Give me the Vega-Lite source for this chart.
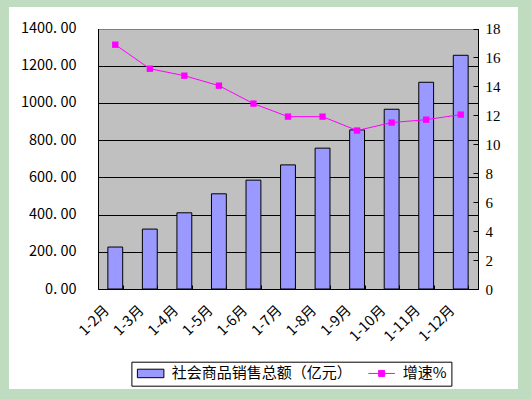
{
  "$schema": "https://vega.github.io/schema/vega-lite/v6.json",
  "width": 509,
  "height": 382,
  "autosize": {"type": "none"},
  "padding": {"left": 9, "top": 7, "right": 13, "bottom": 10},
  "background": "#C0DCC0",
  "config": {
    "view": {"fill": "white", "stroke": null},
    "axis": {"labelColor": "black", "titleColor": "black"}
  },
  "data": {
    "values": [
      {"month": "1-2月", "sales": 225.5, "growth": 16.88},
      {"month": "1-3月", "sales": 322, "growth": 15.22},
      {"month": "1-4月", "sales": 409.6, "growth": 14.74},
      {"month": "1-5月", "sales": 511.6, "growth": 14.05},
      {"month": "1-6月", "sales": 585, "growth": 12.81},
      {"month": "1-7月", "sales": 667, "growth": 11.91},
      {"month": "1-8月", "sales": 757, "growth": 11.91},
      {"month": "1-9月", "sales": 855, "growth": 10.95},
      {"month": "1-10月", "sales": 966, "growth": 11.5},
      {"month": "1-11月", "sales": 1111, "growth": 11.7},
      {"month": "1-12月", "sales": 1256, "growth": 12.05}
    ]
  },
  "encoding": {
    "x": {
      "field": "month",
      "type": "nominal",
      "sort": null,
      "scale": {"type": "band", "range": [89, 469], "paddingInner": 0.57, "paddingOuter": 0.285},
      "axis": {
        "orient": "bottom",
        "offset": -100,
        "title": null,
        "grid": false,
        "domainColor": "black",
        "domainWidth": 1,
        "ticks": true,
        "tickBand": "extent",
        "tickSize": -4,
        "tickColor": "black",
        "labelAngle": -45,
        "labelAlign": "right",
        "labelBaseline": "middle",
        "labelPadding": 23,
        "labelOffset": -8.5,
        "labelFont": "Noto Sans CJK SC",
        "labelFontSize": 14.5
      }
    }
  },
  "layer": [
    {
      "mark": {"type": "bar", "opacity": 0},
      "encoding": {
        "y": {
          "field": "sales",
          "type": "quantitative",
          "scale": {"domain": [0, 1400], "range": [282, 21.5], "nice": false, "zero": true},
          "axis": {
            "orient": "left",
            "offset": -89,
            "values": [700],
            "grid": true,
            "gridColor": "#C0C0C0",
            "gridWidth": 260.5,
            "gridCap": "butt",
            "gridOpacity": 1,
            "domain": false,
            "ticks": false,
            "labels": false,
            "title": null,
            "zindex": 0
          }
        }
      }
    },
    {
      "mark": {"type": "bar", "color": "#9999FF", "stroke": "black", "strokeWidth": 1},
      "encoding": {
        "y": {
          "field": "sales",
          "type": "quantitative",
          "scale": {"domain": [0, 1400], "range": [282, 21.5], "nice": false, "zero": true},
          "axis": {
            "orient": "left",
            "offset": -89,
            "values": [0, 200, 400, 600, 800, 1000, 1200, 1400],
            "grid": true,
            "gridColor": {"condition": {"test": "datum.value === 1400", "value": "#808080"}, "value": "black"},
            "gridWidth": 1,
            "gridOpacity": 1,
            "domain": true,
            "domainColor": "black",
            "ticks": false,
            "labelExpr": "replace(format(datum.value, '.2f'), '.', '. ')",
            "labelFont": "Noto Sans CJK SC",
            "labelFontSize": 14.5,
            "labelPadding": 22,
            "title": null,
            "zindex": 0
          }
        }
      }
    },
    {
      "mark": {
        "type": "line",
        "color": "#FF00FF",
        "strokeWidth": 1,
        "point": {"shape": "square", "size": 40, "filled": true, "color": "#FF00FF"}
      },
      "encoding": {
        "y": {
          "field": "growth",
          "type": "quantitative",
          "scale": {"domain": [0, 18], "range": [282, 21.5], "nice": false, "zero": true},
          "axis": {
            "orient": "right",
            "offset": -40,
            "values": [0, 2, 4, 6, 8, 10, 12, 14, 16, 18],
            "grid": false,
            "domain": true,
            "domainColor": "black",
            "ticks": true,
            "tickSize": -5,
            "tickColor": "black",
            "labelFont": "Liberation Serif",
            "labelFontSize": 15,
            "labelPadding": 12,
            "title": null,
            "zindex": 0
          }
        }
      }
    },
    {
      "transform": [{"filter": "false"}],
      "mark": {"type": "point", "filled": true, "strokeWidth": 1, "opacity": 1},
      "encoding": {
        "y": {
          "field": "growth",
          "type": "quantitative",
          "scale": {"domain": [0, 18], "range": [282, 21.5]},
          "axis": null
        },
        "color": {
          "datum": "增速%",
          "scale": {"domain": ["社会商品销售总额（亿元）", "增速%"], "range": ["#9999FF", "#FF00FF"]},
          "legend": {
            "orient": "none",
            "legendX": 122.4,
            "legendY": 354.7,
            "direction": "horizontal",
            "title": null,
            "fillColor": "white",
            "strokeColor": "black",
            "padding": 4,
            "labelFont": "Noto Sans CJK SC",
            "labelFontSize": 15,
            "labelColor": "black",
            "labelLimit": 0,
            "labelOffset": 13.5,
            "symbolOffset": 7.75,
            "columnPadding": 14,
            "symbolSize": 100,
            "symbolStrokeWidth": 1,
            "symbolOpacity": 1
          }
        },
        "stroke": {
          "datum": "增速%",
          "scale": {"domain": ["社会商品销售总额（亿元）", "增速%"], "range": ["black", "#FF00FF"]}
        },
        "shape": {
          "datum": "增速%",
          "scale": {"domain": ["社会商品销售总额（亿元）", "增速%"], "range": ["M-2.65,-0.85H2.65V0.85H-2.65Z", "M-2.65,0H2.65M-0.6,-0.6H0.6V0.6H-0.6Z"]}
        }
      }
    }
  ],
  "resolve": {"scale": {"y": "independent"}}
}
